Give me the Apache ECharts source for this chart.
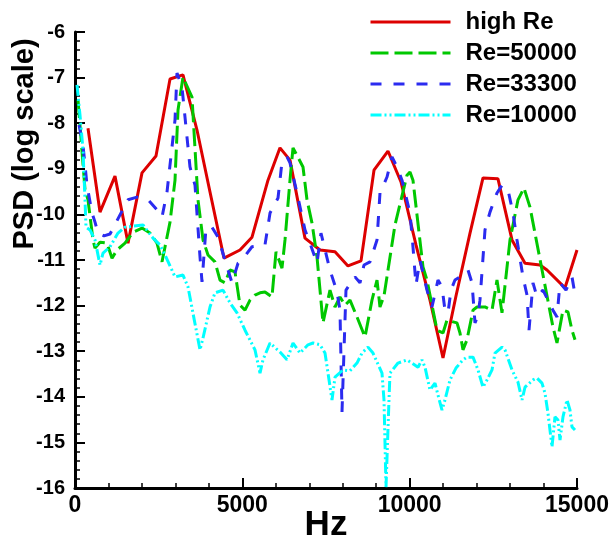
<!DOCTYPE html>
<html>
<head>
<meta charset="utf-8">
<script src="https://cdn.jsdelivr.net/npm/echarts@6/dist/echarts.min.js"></script>
<style>
html,body{margin:0;padding:0;background:#fff;}
#chart{width:613px;height:540px;}
</style>
</head>
<body>
<div id="chart"></div>
<script>
// ---- data (Hz, log10 PSD) ----
const seriesNames = ['high Re', 'Re=50000', 'Re=33300', 'Re=10000'];
const xTicks = [0, 5000, 10000, 15000];
const yTicks = [-16, -15, -14, -13, -12, -11, -10, -9, -8, -7, -6];

const redHz = [388,747,1195,1584,2002,2420,2839,3227,3645,4034,4452,4930,5289,5767,6125,6424,6872,7321,7769,8157,8546,8934,9352,9741,10189,10607,10996,11384,11803,12191,12639,13058,13446,13894,14103,14641,15000];
const redPsd = [-8.11,-9.95,-9.16,-10.63,-9.09,-8.72,-7.03,-6.94,-8.15,-9.51,-10.96,-10.78,-10.50,-9.25,-8.54,-8.81,-10.52,-10.78,-10.82,-11.13,-11.02,-9.03,-8.61,-9.29,-10.67,-11.88,-13.15,-11.79,-10.41,-9.20,-9.22,-10.56,-11.07,-11.11,-11.22,-11.61,-10.78];

const greenHz = [90,299,388,538,598,747,956,1106,1255,1494,1733,2002,2241,2450,2600,2839,2988,3078,3227,3496,3675,3825,3974,4183,4333,4482,4631,4781,4930,5080,5229,5378,5528,5677,5886,6006,6185,6275,6424,6514,6813,6932,7082,7231,7410,7619,7769,7918,8068,8217,8426,8665,8874,9024,9113,9233,9562,9920,10010,10099,10398,10518,10817,10996,11115,11414,11504,11593,11713,11893,12012,12251,12460,12609,12759,12998,13237,13416,13595,14282,14402,14581,14731,14850,14940];
const greenPsd = [-7.49,-9.46,-9.68,-10.56,-10.74,-10.61,-10.63,-10.96,-10.78,-10.63,-10.39,-10.30,-10.41,-10.63,-11.04,-10.17,-9.25,-7.71,-6.99,-7.43,-9.68,-10.56,-10.89,-11.04,-11.44,-11.50,-11.22,-11.26,-11.99,-12.10,-11.88,-11.77,-11.72,-11.70,-11.81,-10.82,-11.18,-10.56,-9.25,-8.54,-8.96,-9.68,-10.19,-10.93,-12.38,-11.66,-12.03,-11.81,-11.99,-11.88,-12.25,-12.69,-11.88,-11.44,-12.03,-11.79,-10.23,-9.14,-9.07,-9.25,-11.15,-11.44,-12.54,-12.60,-12.32,-12.38,-12.60,-12.97,-12.75,-12.10,-12.03,-12.03,-12.10,-11.44,-12.16,-10.56,-9.68,-9.42,-9.84,-12.47,-12.82,-12.10,-12.14,-12.54,-12.75];

const blueHz = [120,239,359,508,598,687,867,1046,1345,1584,1853,2181,2450,2600,2749,2988,3048,3197,3436,3586,3735,3795,3914,4094,4273,4542,4691,4871,4990,5289,5677,5827,6066,6185,6335,6424,6633,6872,7022,7231,7350,7619,7829,7918,7978,8097,8366,8516,8635,8815,9024,9113,9323,9472,9621,9771,10010,10099,10189,10309,10518,10667,10846,10966,11055,11145,11235,11354,11593,11743,11863,11952,12042,12101,12251,12400,12609,12759,12938,13088,13207,13386,13506,13566,13685,13805,13984,14282,14402,14492,14671,14850,14970];
const bluePsd = [-8.04,-8.48,-9.36,-9.97,-10.17,-10.41,-10.47,-10.43,-10.01,-9.68,-9.62,-9.68,-9.90,-10.06,-9.51,-7.93,-6.90,-7.21,-8.96,-9.36,-10.93,-11.48,-10.30,-10.28,-10.50,-11.15,-11.50,-11.07,-11.00,-10.71,-10.67,-9.97,-9.64,-8.85,-8.74,-8.87,-9.53,-10.34,-10.63,-11.07,-10.41,-11.22,-11.70,-12.10,-14.33,-11.66,-11.37,-11.50,-11.11,-11.04,-10.56,-9.53,-9.18,-8.74,-8.96,-9.25,-9.97,-10.71,-11.55,-11.00,-11.66,-12.03,-11.44,-11.59,-12.10,-12.16,-11.66,-11.44,-11.33,-11.22,-11.50,-12.38,-12.21,-11.88,-10.34,-9.95,-9.53,-9.36,-9.46,-9.97,-10.56,-11.37,-11.77,-12.54,-11.50,-11.81,-11.66,-12.10,-12.25,-11.50,-11.66,-11.37,-11.88];

const cyanHz = [60,149,239,299,329,448,598,747,837,1046,1285,1494,2032,2331,2540,2689,2988,3227,3376,3735,3825,4034,4183,4422,4631,4841,5080,5378,5528,5617,5827,6125,6335,6514,6723,6962,7111,7321,7470,7560,7679,7769,8008,8217,8426,8576,8755,8904,9173,9233,9293,9382,9412,9651,9920,10249,10368,10458,10607,10757,10846,10966,11055,11205,11384,11593,11713,11893,12042,12191,12311,12460,12550,12759,12848,13058,13237,13357,13446,13685,13805,13954,14044,14133,14253,14342,14432,14492,14581,14701,14790,14850,14940];
const cyanPsd = [-7.16,-7.82,-8.59,-9.68,-10.28,-10.34,-10.56,-11.11,-10.85,-10.71,-10.41,-10.28,-10.23,-10.52,-10.67,-10.89,-11.37,-11.33,-11.59,-12.97,-12.71,-12.03,-11.72,-11.66,-11.94,-12.16,-12.54,-12.97,-13.48,-13.19,-12.82,-13.02,-13.19,-12.82,-13.04,-12.86,-12.82,-12.86,-13.04,-13.48,-14.07,-13.57,-13.41,-13.43,-13.26,-13.04,-12.91,-13.04,-13.48,-14.07,-15.98,-14.07,-13.48,-13.26,-13.19,-13.35,-13.19,-13.35,-13.85,-13.70,-13.96,-14.29,-14.07,-13.63,-13.37,-13.19,-13.13,-13.13,-13.41,-13.79,-13.63,-13.41,-13.04,-12.91,-12.97,-13.41,-13.68,-14.07,-13.79,-13.63,-13.59,-13.70,-13.92,-14.36,-15.10,-14.44,-14.51,-14.95,-14.44,-14.07,-14.29,-14.66,-14.73];

// ---- build ----
function zip(xs, ys) {
  const n = Math.min(xs.length, ys.length);
  const out = [];
  for (let i = 0; i < n; i++) out.push([xs[i], ys[i]]);
  return out;
}
const FONT = '"Liberation Sans", Arial, Helvetica, sans-serif';
const colors = ['#dd0000', '#00c800', '#2b2bf0', '#00ffff'];
const dashes = ['solid', [18, 6], [11, 12], [11, 3, 2, 3, 2, 3]];
const datasets = [zip(redHz, redPsd), zip(greenHz, greenPsd), zip(blueHz, bluePsd), zip(cyanHz, cyanPsd)];

const chart = echarts.init(document.getElementById('chart'), null, {renderer: 'canvas'});
const axisCommon = {
  type: 'value',
  splitLine: {show: false},
  minorSplitLine: {show: false},
  axisLine: {show: true, onZero: false, lineStyle: {color: '#000', width: 3}},
  axisTick: {show: true, inside: true, length: 10, lineStyle: {color: '#000', width: 2}},
  minorTick: {show: true, splitNumber: 5, length: 5, lineStyle: {color: '#000', width: 1.5}}
};
chart.setOption({
  animation: false,
  backgroundColor: '#fff',
  color: colors,
  grid: {left: 75, right: 36, top: 32, bottom: 52, containLabel: false, outerBoundsMode: 'none'},
  legend: {
    data: seriesNames,
    orient: 'vertical',
    left: 369,
    top: 10,
    padding: 0,
    itemWidth: 80,
    itemHeight: 24,
    itemGap: 7,
    lineStyle: {width: 3},
    itemStyle: {color: 'rgba(0,0,0,0)', borderWidth: 0, opacity: 0},
    textStyle: {fontFamily: FONT, fontSize: 24, fontWeight: 'bold', color: '#000', lineHeight: 24, padding: [0, 0, 0, 10]},
    selectedMode: false
  },
  xAxis: Object.assign({}, axisCommon, {
    min: xTicks[0], max: xTicks[xTicks.length - 1], interval: xTicks[1] - xTicks[0],
    name: 'Hz', nameLocation: 'middle', nameGap: 20, nameMoveOverlap: false,
    nameTextStyle: {fontFamily: FONT, fontSize: 35, fontWeight: 'bold', color: '#000'},
    axisLabel: {fontFamily: FONT, fontSize: 23, fontWeight: 'bold', color: '#000', margin: 6,
      formatter: v => String(v)}
  }),
  yAxis: Object.assign({}, axisCommon, {
    min: yTicks[0], max: yTicks[yTicks.length - 1], interval: yTicks[1] - yTicks[0],
    axisLabel: {fontFamily: FONT, fontSize: 20, fontWeight: 'bold', color: '#000', margin: 10,
      formatter: v => String(v)}
  }),
  graphic: [{
    type: 'text',
    x: 25, y: 144,
    rotation: Math.PI / 2,
    style: {
      text: 'PSD (log scale)',
      fontFamily: FONT, fontSize: 29, fontWeight: 'bold', fill: '#000',
      align: 'center', verticalAlign: 'middle',
      textAlign: 'center', textVerticalAlign: 'middle'
    }
  }],
  series: seriesNames.map((name, i) => ({
    name: name,
    type: 'line',
    data: datasets[i],
    showSymbol: false,
    symbol: 'none',
    clip: true,
    lineStyle: {width: 3, color: colors[i], type: dashes[i]},
    itemStyle: {color: colors[i]},
    z: 2 + i
  }))
});
</script>
</body>
</html>
